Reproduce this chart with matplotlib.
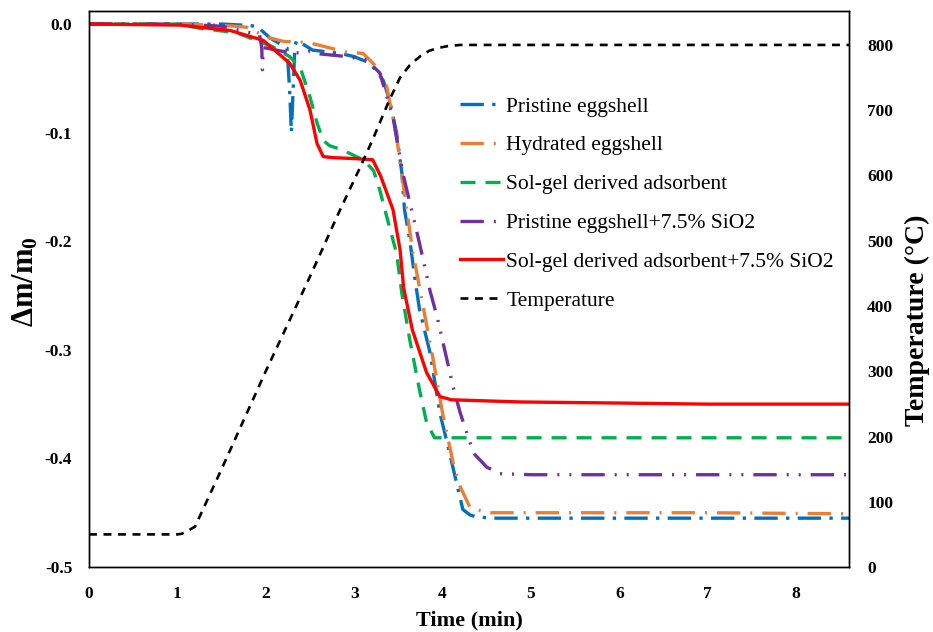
import numpy as np
import matplotlib
matplotlib.use("Agg")
import matplotlib.pyplot as plt

# ---- data ----
t_pristine = [0, 1.0, 1.5, 1.74, 1.9, 2.05, 2.24, 2.27, 2.29, 2.31, 2.33, 2.35, 2.53, 2.84, 3.0, 3.18,
              3.33, 3.40, 3.48, 3.54, 3.57, 3.63, 3.69, 3.74, 3.86, 3.97, 4.08, 4.16, 4.23, 4.31, 4.39,
              4.6, 5.0, 6.0, 7.0, 8.6]
m_pristine = [0, 0, 0, -0.001, -0.002, -0.013, -0.022, -0.06, -0.10, -0.06, -0.02, -0.015, -0.024, -0.027,
              -0.030, -0.036, -0.052, -0.070, -0.100, -0.137, -0.171, -0.199, -0.236, -0.263, -0.303, -0.358,
              -0.395, -0.423, -0.447, -0.452, -0.454, -0.455, -0.455, -0.455, -0.455, -0.455]

t_hydrated = [0, 1.0, 1.5, 1.79, 2.01, 2.2, 2.47, 2.58, 2.92, 3.1, 3.26, 3.37, 3.48, 3.57, 3.66, 3.78,
              3.89, 4.0, 4.12, 4.2, 4.31, 4.5, 5.0, 6.0, 7.0, 8.6]
m_hydrated = [0, 0, -0.001, -0.003, -0.012, -0.016, -0.017, -0.019, -0.026, -0.027, -0.04, -0.058, -0.104,
              -0.156, -0.208, -0.26, -0.307, -0.358, -0.404, -0.426, -0.445, -0.45, -0.45, -0.45, -0.45, -0.451]

t_solgel = [0, 1.0, 1.26, 1.67, 2.08, 2.27, 2.39, 2.5, 2.58, 2.65, 2.72, 2.87, 3.1, 3.14, 3.22, 3.29,
            3.40, 3.48, 3.54, 3.63, 3.74, 3.82, 3.91, 4.0, 5.0, 6.0, 7.0, 8.6]
m_solgel = [0, 0, -0.004, -0.008, -0.021, -0.03, -0.04, -0.067, -0.091, -0.107, -0.112, -0.116, -0.125,
            -0.128, -0.135, -0.153, -0.187, -0.211, -0.248, -0.291, -0.337, -0.367, -0.381, -0.381, -0.381,
            -0.381, -0.381, -0.381]

t_pristine_si = [0, 1.0, 1.5, 1.93, 1.955, 1.96, 1.965, 1.97, 2.0, 2.24, 2.45, 2.5, 2.55, 2.92, 3.14, 3.29,
                 3.44, 3.55, 3.74, 3.86, 3.94, 4.12, 4.2, 4.35, 4.5, 4.65, 5.0, 6.0, 7.0, 8.6]
m_pristine_si = [0, 0, -0.002, -0.01, -0.022, -0.042, -0.042, -0.022, -0.022, -0.026, -0.027, -0.025, -0.027,
                 -0.030, -0.033, -0.045, -0.086, -0.137, -0.202, -0.246, -0.27, -0.334, -0.358, -0.395, -0.408,
                 -0.414, -0.415, -0.415, -0.415, -0.415]

t_solgel_si = [0, 1.03, 1.6, 1.97, 2.27, 2.39, 2.5, 2.58, 2.65, 2.75, 3.03, 3.21, 3.3, 3.44, 3.52, 3.56,
               3.66, 3.82, 3.97, 4.1, 4.88, 6.0, 7.0, 8.6]
m_solgel_si = [0, -0.001, -0.006, -0.015, -0.036, -0.052, -0.079, -0.11, -0.122, -0.123, -0.124, -0.125,
               -0.14, -0.171, -0.208, -0.243, -0.282, -0.321, -0.343, -0.346, -0.348, -0.349, -0.35, -0.35]

t_temp = [0, 1.0, 1.05, 1.1, 1.2, 1.5, 2.0, 2.5, 2.84, 3.07, 3.21, 3.4, 3.52, 3.63, 3.75, 3.85, 3.94,
          4.05, 4.2, 5.0, 8.6]
temp = [50, 50, 51, 54, 62, 150, 300, 445, 547, 613, 655, 716, 750, 769, 783, 791, 795, 798, 800, 800, 800]

plt.rcParams["font.family"] = ["Liberation Serif", "DejaVu Serif"]
plt.rcParams["mathtext.fontset"] = "custom"
plt.rcParams["mathtext.rm"] = "Liberation Serif"
plt.rcParams["mathtext.bf"] = "Liberation Serif:bold"

fig = plt.figure(figsize=(9.33, 6.32), dpi=100)
ax = fig.add_axes([0.0954, 0.1028, 0.8146, 0.8798])
ax2 = ax.twinx()

lw = 2.4
l1, = ax.plot(t_pristine, m_pristine, color="#0070C0", lw=lw, dashes=(7, 2.5, 1, 2.5), label="Pristine eggshell")
l2, = ax.plot(t_hydrated, m_hydrated, color="#ED7D31", lw=lw, dashes=(7, 3, 0.6, 3), label="Hydrated eggshell")
l3, = ax.plot(t_solgel, m_solgel, color="#00B050", lw=lw, dashes=(4.5, 3), label="Sol-gel derived adsorbent")
l4, = ax.plot(t_pristine_si, m_pristine_si, color="#7030A0", lw=lw, dashes=(7, 3, 0.6, 3, 0.6, 3),
              label="Pristine eggshell+7.5% SiO2")
l5, = ax.plot(t_solgel_si, m_solgel_si, color="#FF0000", lw=lw, label="Sol-gel derived adsorbent+7.5% SiO2")
l6, = ax2.plot(t_temp, temp, color="black", lw=1.9, dashes=(3, 2.5), label="Temperature")

ax.set_xlim(0, 8.6)
ax.set_ylim(-0.5, 0.012)
ax2.set_ylim(0, 852)
ax.set_xticks(range(0, 9))
ax.set_yticks([0.0, -0.1, -0.2, -0.3, -0.4, -0.5])
ax.set_yticklabels(["0.0", "-0.1", "-0.2", "-0.3", "-0.4", "-0.5"])
ax2.set_yticks(range(0, 801, 100))

for a in (ax, ax2):
    a.tick_params(length=0, labelsize=12.5)
    for lab in a.get_xticklabels() + a.get_yticklabels():
        lab.set_fontweight("bold")
    for s in a.spines.values():
        s.set_linewidth(1.0)
ax.tick_params(axis="x", pad=14)
ax.tick_params(axis="y", pad=12)
ax2.tick_params(axis="y", pad=13)

ax.set_xlabel("Time (min)", fontsize=16, fontweight="bold")
ax.xaxis.set_label_coords(0.5, -0.078)
ax.set_ylabel(r"$\mathbf{\Delta m/m_0}$", fontsize=22)
ax.yaxis.set_label_coords(-0.064, 0.514)
ax2.set_ylabel("Temperature (°C)", fontsize=20, fontweight="bold")
ax2.yaxis.set_label_coords(1.074, 0.444)

ax.legend(handles=[l1, l2, l3, l4, l5, l6], loc="upper left", bbox_to_anchor=(0.488, 0.846),
          frameon=False, fontsize=15.5, handlelength=2.0, handletextpad=0.15, labelspacing=0.87,
          borderpad=0, borderaxespad=0)

fig.savefig("out.png", dpi=100)
